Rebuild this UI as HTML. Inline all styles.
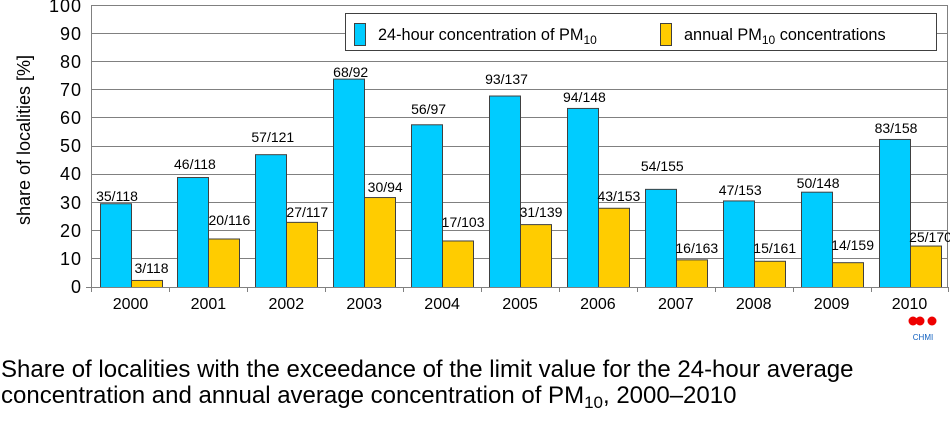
<!DOCTYPE html>
<html><head><meta charset="utf-8"><style>
body{margin:0;background:#fff;}
svg text{font-family:"Liberation Sans",Arial,sans-serif;fill:#000;}
</style></head><body>
<svg width="950" height="424" xmlns="http://www.w3.org/2000/svg">
<g stroke="#808080" stroke-width="1">
<line x1="91.5" y1="5.5" x2="948" y2="5.5"/>
<line x1="91.5" y1="33.5" x2="948" y2="33.5"/>
<line x1="91.5" y1="61.5" x2="948" y2="61.5"/>
<line x1="91.5" y1="89.5" x2="948" y2="89.5"/>
<line x1="91.5" y1="117.5" x2="948" y2="117.5"/>
<line x1="91.5" y1="146.5" x2="948" y2="146.5"/>
<line x1="91.5" y1="174.5" x2="948" y2="174.5"/>
<line x1="91.5" y1="202.5" x2="948" y2="202.5"/>
<line x1="91.5" y1="230.5" x2="948" y2="230.5"/>
<line x1="91.5" y1="258.5" x2="948" y2="258.5"/>
<line x1="947.5" y1="5" x2="947.5" y2="287"/>
</g>
<g id="bars" stroke="#404040" stroke-width="1"></g>
<g stroke="#808080" stroke-width="1">
<line x1="91.5" y1="5" x2="91.5" y2="292"/>
<line x1="86" y1="287.5" x2="948" y2="287.5"/>
</g>
<g font-size="18" text-anchor="end" letter-spacing="1">
<text x="82" y="293">0</text><text x="82" y="265">10</text><text x="82" y="237">20</text><text x="82" y="209">30</text><text x="82" y="180">40</text><text x="82" y="152">50</text><text x="82" y="124">60</text><text x="82" y="96">70</text><text x="82" y="68">80</text><text x="82" y="40">90</text><text x="82" y="12">100</text>
</g>
<text transform="translate(30,140) rotate(-90)" font-size="18" text-anchor="middle">share of localities [%]</text>
<rect x="345.5" y="13.5" width="591" height="37" fill="#fff" stroke="#404040"/>
<line x1="937" y1="33.5" x2="948" y2="33.5" stroke="#808080"/>
<rect x="354.5" y="23.5" width="11" height="22" fill="#00CCFF" stroke="#404040"/>
<text x="378" y="40" font-size="16.3">24-hour concentration of PM<tspan font-size="12" dy="4">10</tspan></text>
<rect x="660.5" y="23.5" width="11" height="22" fill="#FFCC00" stroke="#404040"/>
<text x="684" y="40" font-size="16.3">annual PM<tspan font-size="12" dy="4">10</tspan><tspan dy="-4"> concentrations</tspan></text>
<g fill="#e00"><circle cx="913" cy="321" r="4.5"/><circle cx="920" cy="321" r="4.5"/><circle cx="932" cy="321" r="4.5"/></g>
<text x="923" y="340" font-size="8" text-anchor="middle" style="fill:#1060c0">CHMI</text>
<text x="1" y="377" font-size="24">Share of localities with the exceedance of the limit value for the 24-hour average</text>
<text x="1" y="403" font-size="24">concentration and annual average concentration of PM<tspan font-size="17" dy="5">10</tspan><tspan dy="-5">, 2000–2010</tspan></text>
<g id="labels" font-size="14" text-anchor="middle"></g>
<g id="years" font-size="16" text-anchor="middle"></g>
</svg>
<script>
var b=[29.7,39,47.1,73.9,57.7,67.9,63.5,34.8,30.7,33.8,52.5];
var y=[2.5,17.2,23.1,31.9,16.5,22.3,28.1,9.8,9.3,8.8,14.7];
var bl=["35/118","46/118","57/121","68/92","56/97","93/137","94/148","54/155","47/153","50/148","83/158"];
var yl=["3/118","20/116","27/117","30/94","17/103","31/139","43/153","16/163","15/161","14/159","25/170"];
var by=[196,164,137,72,109,79,97,166,190,183,128];
var yy=[268,220,212,187,222,212,196,248,248,245,237];
var ns="http://www.w3.org/2000/svg",G=document.getElementById("bars"),L=document.getElementById("labels"),Y=document.getElementById("years");
function el(p,t,a,tx){var e=document.createElementNS(ns,t);for(var k in a)e.setAttribute(k,a[k]);if(tx)e.textContent=tx;p.appendChild(e);}
for(var i=0;i<11;i++){var x0=91.5+i*77.9;
var hb=b[i]*2.82,hy=y[i]*2.82;
el(G,"rect",{x:Math.round(x0+8)+.5,y:287.5-hb,width:31,height:hb,fill:"#00CCFF"});
el(G,"rect",{x:Math.round(x0+39)+.5,y:287.5-hy,width:31,height:hy,fill:"#FFCC00"});
el(L,"text",{x:x0+25.5,y:by[i]+5},bl[i]);
el(L,"text",{x:x0+60,y:yy[i]+5},yl[i]);
el(Y,"text",{x:x0+39,y:309},String(2000+i));
el(G,"line",{x1:Math.round(x0+77.9)+.5,y1:287,x2:Math.round(x0+77.9)+.5,y2:292,stroke:"#808080"});
}
</script>
</body></html>
